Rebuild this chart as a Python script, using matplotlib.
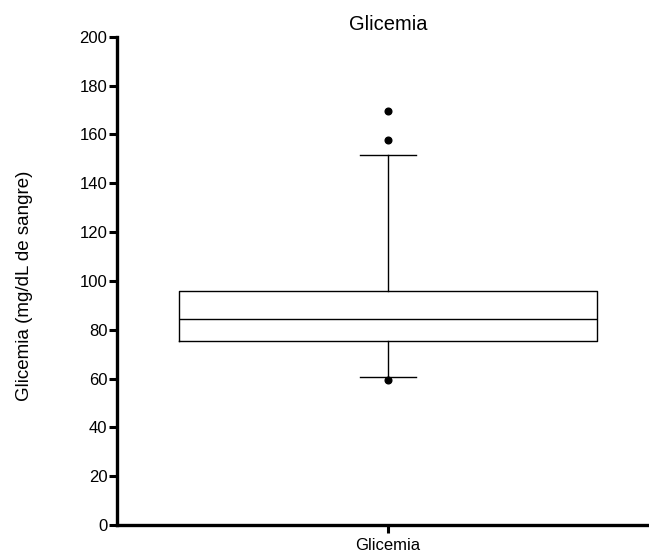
import matplotlib
matplotlib.use("Agg")
import matplotlib.pyplot as plt

plt.rcParams['font.family'] = ['Liberation Sans', 'DejaVu Sans']

# box statistics
label = "Glicemia"
q1 = 75.5
median = 84.5
q3 = 96.0
whisker_low = 60.8
whisker_high = 151.5
outliers = [59.5, 157.5, 169.5]

stats = [{
    'label': label,
    'q1': q1, 'med': median, 'q3': q3,
    'whislo': whisker_low, 'whishi': whisker_high,
    'fliers': outliers,
}]

fig = plt.figure(figsize=(6.49, 5.56), dpi=100)
ax = fig.add_axes([117 / 649, 31 / 556, 542 / 649, 488.3 / 556])

line = dict(color='black', linewidth=1)
ax.bxp(stats, positions=[1], widths=0.771, capwidths=0.103,
       boxprops=line, medianprops=line, whiskerprops=line, capprops=line,
       flierprops=dict(marker='o', markerfacecolor='black',
                       markeredgecolor='black', markersize=4.8))

ax.set_xlim(0.5, 1.5)
ax.set_ylim(0, 200)
ax.set_yticks(range(0, 201, 20))
ax.set_xticks([1])
ax.set_xticklabels([label])

for side in ('top', 'right'):
    ax.spines[side].set_visible(False)
for side in ('left', 'bottom'):
    ax.spines[side].set_linewidth(2.4)
ax.tick_params(axis='y', width=2.2, length=6, labelsize=12, pad=1)
ax.tick_params(axis='x', width=2.2, length=6, labelsize=12, pad=3)

ax.set_ylabel('Glicemia (mg/dL de sangre)', fontsize=13.5)
ax.yaxis.set_label_coords(-0.155, 0.49)
ax.set_title('Glicemia', fontsize=14.5, pad=5)

fig.savefig('out.png', dpi=100)
